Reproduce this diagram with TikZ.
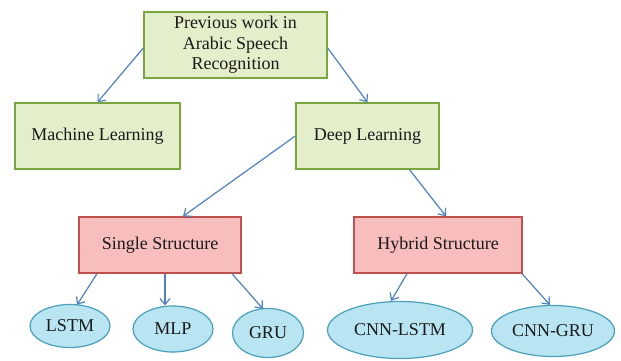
\documentclass[tikz,border=0pt]{standalone}
\usepackage{fontspec}
\setmainfont{Liberation Serif}
\usetikzlibrary{arrows.meta,shapes.geometric}
\definecolor{greenfill}{HTML}{E3EFCB}
\definecolor{greenline}{HTML}{7AA63F}
\definecolor{redfill}{HTML}{F8BDBD}
\definecolor{redline}{HTML}{C0504D}
\definecolor{bluefill}{HTML}{B9E5F3}
\definecolor{blueline}{HTML}{4A9FBA}
\definecolor{arrowcol}{HTML}{4F81BD}
\definecolor{textcol}{HTML}{1A1A1A}
\begin{document}
\begin{tikzpicture}[x=1pt,y=-1pt,
  label font/.style={font=\fontsize{18}{20.5}\selectfont, text=textcol},
  greenbox/.style={draw=greenline, fill=greenfill, line width=1.4pt, rectangle,
    inner sep=0pt, align=center, label font},
  redbox/.style={draw=redline, fill=redfill, line width=1.4pt, rectangle,
    inner sep=0pt, label font},
  leaf/.style={draw=blueline, fill=bluefill, line width=1.2pt, ellipse,
    inner sep=0pt, label font},
  link/.style={draw=arrowcol, line width=1.2pt,
    -{Straight Barb[length=6pt,width=10pt,line width=1.2pt]}}]
\useasboundingbox (0,0) rectangle (621,361);
\fill[white] (0,0) rectangle (621,361);

% boxes
\node[greenbox, minimum width=183pt, minimum height=66pt] (top) at (235.5,45)
  {Previous work in\\Arabic Speech\\Recognition};
\node[greenbox, minimum width=165pt, minimum height=66pt] (ml) at (97.5,136) {Machine Learning};
\node[greenbox, minimum width=143pt, minimum height=66pt] (dl) at (367.5,136) {Deep Learning};
\node[redbox, minimum width=162pt, minimum height=56pt] (single) at (160,245) {Single Structure};
\node[redbox, minimum width=168pt, minimum height=56pt] (hybrid) at (438,245) {Hybrid Structure};

% leaves
\node[leaf, minimum width=80pt, minimum height=43pt] (lstm) at (70,326) {LSTM};
\node[leaf, minimum width=80pt, minimum height=46pt] (mlp) at (173,329) {MLP};
\node[leaf, minimum width=71pt, minimum height=49pt] (gru) at (268,333) {GRU};
\node[leaf, minimum width=145pt, minimum height=57pt] (cnnlstm) at (400,330) {CNN-LSTM};
\node[leaf, minimum width=123pt, minimum height=51pt] (cnngru) at (553,331) {CNN-GRU};

% connectors
\draw[link] ([yshift=-3pt]top.west) -- (ml.north);
\draw[link] ([yshift=-3pt]top.east) -- (dl.north);
\draw[link] (dl.west) -- ([xshift=23pt]single.north);
\draw[link] ([xshift=42pt]dl.south) -- ([xshift=8pt]hybrid.north);
\draw[link] ([xshift=-63pt]single.south) -- ([xshift=7pt,yshift=-1pt]lstm.north);
\draw[link] ([xshift=5pt]single.south) -- ([xshift=-8pt]mlp.north);
\draw[link] ([xshift=72pt]single.south) -- ([xshift=-5pt,yshift=-1pt]gru.north);
\draw[link] ([xshift=-31pt]hybrid.south) -- ([xshift=-9pt]cnnlstm.north);
\draw[link] ([xshift=84pt]hybrid.south) -- ([xshift=-3pt]cnngru.north);
\end{tikzpicture}
\end{document}
